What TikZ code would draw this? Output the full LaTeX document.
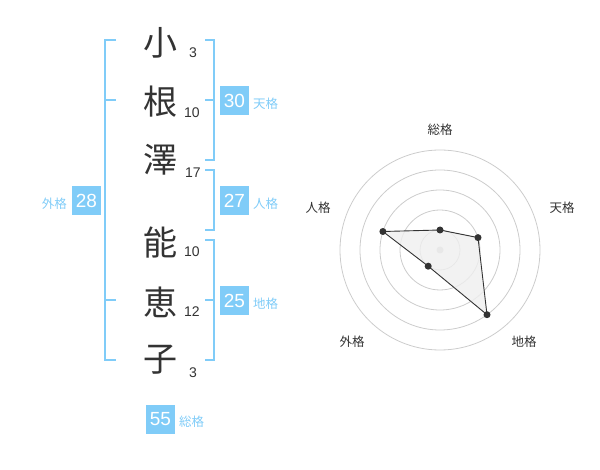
\documentclass[tikz,border=0pt]{standalone}
\usepackage{fontspec}
\setmainfont{Liberation Sans}
\newfontfamily\jp{Noto Sans CJK JP}
\definecolor{kb}{HTML}{80CCF8}
\definecolor{ink}{HTML}{333333}
\definecolor{ring}{HTML}{CCCCCC}
\definecolor{area}{HTML}{EFEFEF}
\begin{document}
\begin{tikzpicture}[x=1pt,y=-1pt,
  br/.style={draw=kb,line width=2pt},
  kanji/.style={text=ink,font=\jp\fontsize{34}{34}\selectfont,inner sep=0pt},
  strokes/.style={text=ink,font=\fontsize{14}{14}\selectfont,inner sep=0pt},
  numbox/.style={fill=kb,text=white,minimum size=29pt,inner sep=0pt,font=\fontsize{19}{19}\selectfont},
  kaku/.style={text=kb,font=\jp\fontsize{12.5}{12.5}\selectfont,inner sep=0pt},
  axislabel/.style={text=ink,font=\jp\fontsize{12.5}{12.5}\selectfont,inner sep=0pt},
  ringc/.style={draw=ring,line width=0.8pt},
  dot/.style={circle,fill=ink,minimum size=7pt,inner sep=0pt}]
\useasboundingbox (0,0) rectangle (600,470);
% name characters
\node[kanji] (c1) at (160,43) {小};
\node[kanji] (c2) at (160,102) {根};
\node[kanji] (c3) at (160,160) {澤};
\node[kanji] (c4) at (160,243) {能};
\node[kanji] (c5) at (160,302) {恵};
\node[kanji] (c6) at (160,360) {子};
\node[strokes] (s1) at (193,53) {3};
\node[strokes] (s2) at (192,113) {10};
\node[strokes] (s3) at (193,173) {17};
\node[strokes] (s4) at (192,252) {10};
\node[strokes] (s5) at (192,312) {12};
\node[strokes] (s6) at (193,373) {3};
% brackets
\draw[br] (116,40) -- (105,40) -- (105,360) -- (116,360);
\draw[br] (105,100) -- (116,100);
\draw[br] (105,300) -- (116,300);
\draw[br] (205,40) -- (214,40) -- (214,160) -- (205,160);
\draw[br] (205,100) -- (214,100);
\draw[br] (205,170) -- (214,170) -- (214,230) -- (205,230);
\draw[br] (205,240) -- (214,240) -- (214,360) -- (205,360);
\draw[br] (205,300) -- (214,300);
% boxes
\node[numbox] (ten) at (234.5,100.5) {30};
\node[kaku,anchor=west] (tenl) at (253,104) {天格};
\node[numbox] (jin) at (234.5,200.5) {27};
\node[kaku,anchor=west] (jinl) at (253,204) {人格};
\node[numbox] (chi) at (234.5,300.5) {25};
\node[kaku,anchor=west] (chil) at (253,304) {地格};
\node[numbox] (gai) at (86.5,200.5) {28};
\node[kaku,anchor=east] (gail) at (67,204) {外格};
\node[numbox] (sou) at (160.5,419) {55};
\node[kaku,anchor=west] (soul) at (179,422) {総格};
% radar chart
\coordinate (o) at (440,250);
\foreach \r in {20,40,60,80,100} \draw[ringc] (o) circle[radius=\r];
\fill[ring] (o) circle[radius=3.5];
\coordinate (pS) at (440,230);
\coordinate (pT) at (478.0,237.6);
\coordinate (pC) at (487.0,314.7);
\coordinate (pG) at (428.2,266.2);
\coordinate (pJ) at (382.9,231.5);
\filldraw[fill=area,fill opacity=0.8,draw=ink,line width=0.9pt] (pS) -- (pT) -- (pC) -- (pG) -- (pJ) -- cycle;
\foreach \p in {pS,pT,pC,pG,pJ} \node[dot] at (\p) {};
\node[axislabel] (lS) at (440,130) {総格};
\node[axislabel] (lT) at (562,208) {天格};
\node[axislabel] (lC) at (524,342) {地格};
\node[axislabel] (lG) at (352,342) {外格};
\node[axislabel] (lJ) at (318,208) {人格};
\end{tikzpicture}
\end{document}
